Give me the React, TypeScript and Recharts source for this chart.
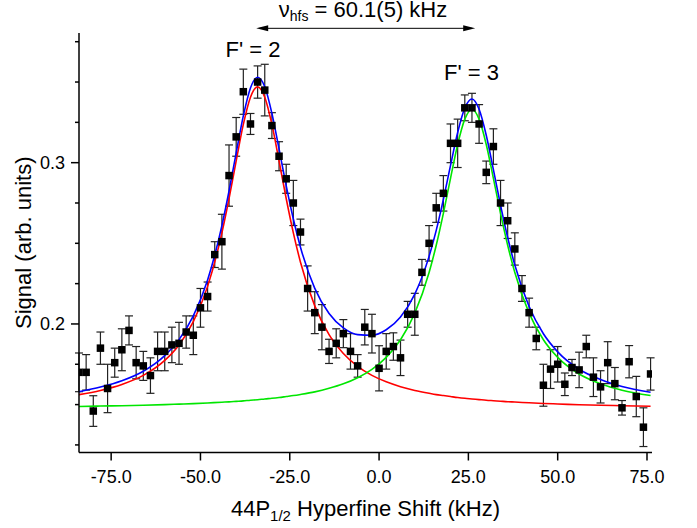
import React from "react";
import {
    ComposedChart,
    Scatter,
    Line,
    XAxis,
    YAxis,
    ErrorBar,
    ReferenceLine,
    ReferenceDot,
} from "recharts";

const FONT = "'Liberation Sans', Arial, Helvetica, sans-serif";

// measured points: hyperfine shift (kHz), signal, error
const shiftKHz = [
    -84, -82, -80, -78, -76, -74, -72, -70, -68, -66, -64, -62, -60, -58, -56, -54, -52, -50, -48, -46,
    -44, -42, -40, -38, -36, -34, -32, -30, -28, -26, -24, -22, -20, -18, -16, -14, -12, -10, -8, -6,
    -4, -2, 0, 2, 4, 6, 8, 10, 12, 14, 16, 18, 20, 22, 24, 26, 28, 30, 32, 34,
    36, 38, 40, 42, 44, 46, 48, 50, 52, 54, 56, 58, 60, 62, 64, 66, 68, 70, 72, 74, 76,
];
const signal = [
    0.170, 0.170, 0.146, 0.185, 0.160, 0.176, 0.184, 0.196, 0.176, 0.174, 0.168, 0.183, 0.183, 0.187, 0.188, 0.195, 0.193, 0.210, 0.217, 0.243,
    0.251, 0.292, 0.316, 0.344, 0.324, 0.350, 0.345, 0.323, 0.304, 0.290, 0.275, 0.257, 0.222, 0.207, 0.198, 0.183, 0.188, 0.194, 0.183, 0.174,
    0.198, 0.194, 0.1725, 0.183, 0.186, 0.179, 0.206, 0.206, 0.232, 0.250, 0.272, 0.281, 0.312, 0.312, 0.334, 0.334, 0.324, 0.294, 0.310, 0.275,
    0.264, 0.2465, 0.222, 0.207, 0.191, 0.162, 0.172, 0.175, 0.1626, 0.173, 0.1715, 0.186, 0.167, 0.161, 0.176, 0.163, 0.148, 0.1766, 0.155, 0.136, 0.169,
];
const signalErr = [
    0.012, 0.011, 0.0095, 0.010, 0.015, 0.009, 0.013, 0.009, 0.010, 0.009, 0.011, 0.012, 0.012, 0.011, 0.013, 0.010, 0.012, 0.012, 0.009, 0.008,
    0.017, 0.019, 0.012, 0.014, 0.0065, 0.010, 0.016, 0.008, 0.009, 0.009, 0.014, 0.008, 0.014, 0.013, 0.014, 0.0075, 0.009, 0.0087, 0.011, 0.007,
    0.011, 0.012, 0.014, 0.011, 0.0085, 0.011, 0.008, 0.013, 0.008, 0.011, 0.009, 0.011, 0.012, 0.015, 0.008, 0.009, 0.012, 0.007, 0.011, 0.014,
    0.011, 0.010, 0.008, 0.009, 0.007, 0.013, 0.012, 0.011, 0.007, 0.005, 0.011, 0.007, 0.012, 0.010, 0.013, 0.010, 0.0045, 0.010, 0.0125, 0.012, 0.010,
];

// fit curves
const fitX = [
    -84, -78, -72, -66, -60, -56, -52, -48, -44, -42, -40, -38, -36, -34, -32, -30, -28, -26, -24, -22,
    -18, -14, -10, -6, -2, 2, 6, 10, 14, 16, 18, 20, 22, 24, 26, 28, 30, 32, 34, 36, 38, 42, 46, 50, 56, 62, 68, 76,
];
const fitF2 = [
    0.1562, 0.1588, 0.1625, 0.1681, 0.1774, 0.187, 0.2014, 0.2233, 0.2565, 0.2778, 0.3011, 0.3237, 0.3406, 0.347, 0.3406, 0.3237, 0.3011, 0.2778, 0.2565, 0.2383,
    0.2112, 0.1934, 0.1817, 0.1737, 0.1681, 0.1641, 0.1611, 0.1588, 0.157, 0.1562, 0.1556, 0.155, 0.1544, 0.1539, 0.1535, 0.1531, 0.1527, 0.1524, 0.1521, 0.1518, 0.1516, 0.1511, 0.1507, 0.1504, 0.1499, 0.1496, 0.1493, 0.149,
];
const fitF3 = [
    0.1488, 0.1491, 0.1493, 0.1496, 0.15, 0.1503, 0.1506, 0.151, 0.1515, 0.1517, 0.152, 0.1523, 0.1527, 0.153, 0.1535, 0.1539, 0.1544, 0.155, 0.1556, 0.1563,
    0.1579, 0.1601, 0.1629, 0.1667, 0.1719, 0.1793, 0.1902, 0.2067, 0.2319, 0.2488, 0.2686, 0.2903, 0.3113, 0.327, 0.333, 0.327, 0.3113, 0.2903, 0.2686, 0.2488, 0.2319, 0.2067, 0.1902, 0.1793, 0.169, 0.1629, 0.1589, 0.1556,
];
const fitSum = [
    0.158, 0.1609, 0.1648, 0.1707, 0.1804, 0.1903, 0.205, 0.2273, 0.261, 0.2825, 0.3061, 0.329, 0.3463, 0.353, 0.3471, 0.3306, 0.3085, 0.2858, 0.2651, 0.2476,
    0.2221, 0.2065, 0.1976, 0.1934, 0.193, 0.1964, 0.2043, 0.2185, 0.2419, 0.258, 0.2772, 0.2983, 0.3187, 0.3339, 0.3395, 0.3331, 0.317, 0.2957, 0.2737, 0.2536, 0.2365, 0.2108, 0.1939, 0.1827, 0.1719, 0.1655, 0.1612, 0.1576,
];

const xTicks = [-75, -50, -25, 0, 25, 50, 75];
const yTicks = [0.125, 0.15, 0.175, 0.2, 0.225, 0.25, 0.275, 0.3, 0.325, 0.35, 0.375];
const yLabelled = [0.2, 0.3];

const points = shiftKHz.map((x, i) => ({ x, y: signal[i], err: signalErr[i] }));
const toLine = (ys: number[]) => fitX.map((x, i) => ({ x, y: ys[i] }));

const XTick = ({ x, y, payload }: any) => (
    <g>
        <line x1={x} y1={y} x2={x} y2={y + 8} stroke="#000" strokeWidth={1.5} />
        <text x={x} y={y + 30} textAnchor="middle" fontSize={18} fontFamily={FONT} fill="#000">
            {payload.value.toFixed(1)}
        </text>
    </g>
);

const YTick = ({ x, y, payload }: any) => {
    const major = yLabelled.some((v) => Math.abs(v - payload.value) < 1e-6);
    return (
        <g>
            <line x1={x - (major ? 8 : 4)} y1={y} x2={x} y2={y} stroke="#000" strokeWidth={1.5} />
            {major && (
                <text x={x - 14} y={y + 6.5} textAnchor="end" fontSize={18} fontFamily={FONT} fill="#000">
                    {payload.value.toFixed(1)}
                </text>
            )}
        </g>
    );
};

const Square = ({ cx, cy }: any) => <rect x={cx - 3.75} y={cy - 3.75} width={7.5} height={7.5} fill="#000" />;

const textAt = (content: React.ReactNode, size = 22) => ({ cx, cy }: any) => (
    <text x={cx} y={cy} textAnchor="middle" fontSize={size} fontFamily={FONT} fill="#000">
        {content}
    </text>
);

export default function App() {
    return (
        <div style={{ position: "absolute", left: 0, top: 0, background: "#fff" }}>
            <ComposedChart width={697} height={528} margin={{ top: 33, right: 45, bottom: 5.5, left: 0 }}>
                <XAxis
                    type="number"
                    dataKey="x"
                    domain={[-84, 76.4]}
                    allowDataOverflow
                    ticks={xTicks}
                    interval={0}
                    height={70}
                    tickSize={0}
                    tickMargin={0}
                    tickLine={false}
                    tick={<XTick />}
                    axisLine={{ stroke: "#000", strokeWidth: 1.5 }}
                    label={{
                        content: ({ viewBox }: any) => (
                            <text
                                x={viewBox.x + viewBox.width / 2}
                                y={viewBox.y + 63}
                                textAnchor="middle"
                                fontSize={22}
                                fontFamily={FONT}
                                fill="#000"
                            >
                                44P
                                <tspan fontSize={15} dy={5}>1/2</tspan>
                                <tspan dy={-5}> Hyperfine Shift (kHz)</tspan>
                            </text>
                        ),
                    }}
                />
                <YAxis
                    type="number"
                    dataKey="y"
                    domain={[0.1203, 0.3804]}
                    allowDataOverflow
                    ticks={yTicks}
                    interval={0}
                    width={79}
                    tickSize={0}
                    tickMargin={0}
                    tickLine={false}
                    tick={<YTick />}
                    axisLine={{ stroke: "#000", strokeWidth: 1.5 }}
                    label={{
                        content: ({ viewBox }: any) => {
                            const cy = viewBox.y + viewBox.height / 2;
                            return (
                                <text
                                    x={31}
                                    y={cy}
                                    transform={`rotate(-90, 31, ${cy})`}
                                    textAnchor="middle"
                                    fontSize={22}
                                    fontFamily={FONT}
                                    fill="#000"
                                >
                                    Signal (arb. units)
                                </text>
                            );
                        },
                    }}
                />
                <Scatter data={points} shape={<Square />} isAnimationActive={false}>
                    <ErrorBar dataKey="err" direction="y" width={4} stroke="#222" strokeWidth={1.2} isAnimationActive={false} />
                </Scatter>
                <Line data={toLine(fitF2)} dataKey="y" type="monotone" stroke="#ff0000" strokeWidth={1.6} dot={false} isAnimationActive={false} />
                <Line data={toLine(fitF3)} dataKey="y" type="monotone" stroke="#00e600" strokeWidth={1.6} dot={false} isAnimationActive={false} />
                <Line data={toLine(fitSum)} dataKey="y" type="monotone" stroke="#0000ff" strokeWidth={1.6} dot={false} isAnimationActive={false} />

                <ReferenceLine
                    segment={[{ x: -33.5, y: 0.3833 }, { x: 26, y: 0.3833 }]}
                    stroke="#000"
                    strokeWidth={1}
                    ifOverflow="visible"
                />
                <ReferenceDot
                    x={-34.4}
                    y={0.3833}
                    ifOverflow="visible"
                    shape={({ cx, cy }: any) => (
                        <polygon points={`${cx},${cy} ${cx + 12},${cy - 3} ${cx + 12},${cy + 3}`} fill="#000" />
                    )}
                />
                <ReferenceDot
                    x={26.9}
                    y={0.3833}
                    ifOverflow="visible"
                    shape={({ cx, cy }: any) => (
                        <polygon points={`${cx},${cy} ${cx - 12},${cy - 3} ${cx - 12},${cy + 3}`} fill="#000" />
                    )}
                />
                <ReferenceDot
                    x={-4.5}
                    y={0.3905}
                    ifOverflow="visible"
                    shape={textAt(
                        <>
                            ν<tspan fontSize={14} dy={4}>hfs</tspan>
                            <tspan dy={-4}> = 60.1(5) kHz</tspan>
                        </>
                    )}
                />
                <ReferenceDot x={-35.3} y={0.3653} ifOverflow="visible" shape={textAt("F' = 2")} />
                <ReferenceDot x={25.9} y={0.3513} ifOverflow="visible" shape={textAt("F' = 3")} />
            </ComposedChart>
        </div>
    );
}
